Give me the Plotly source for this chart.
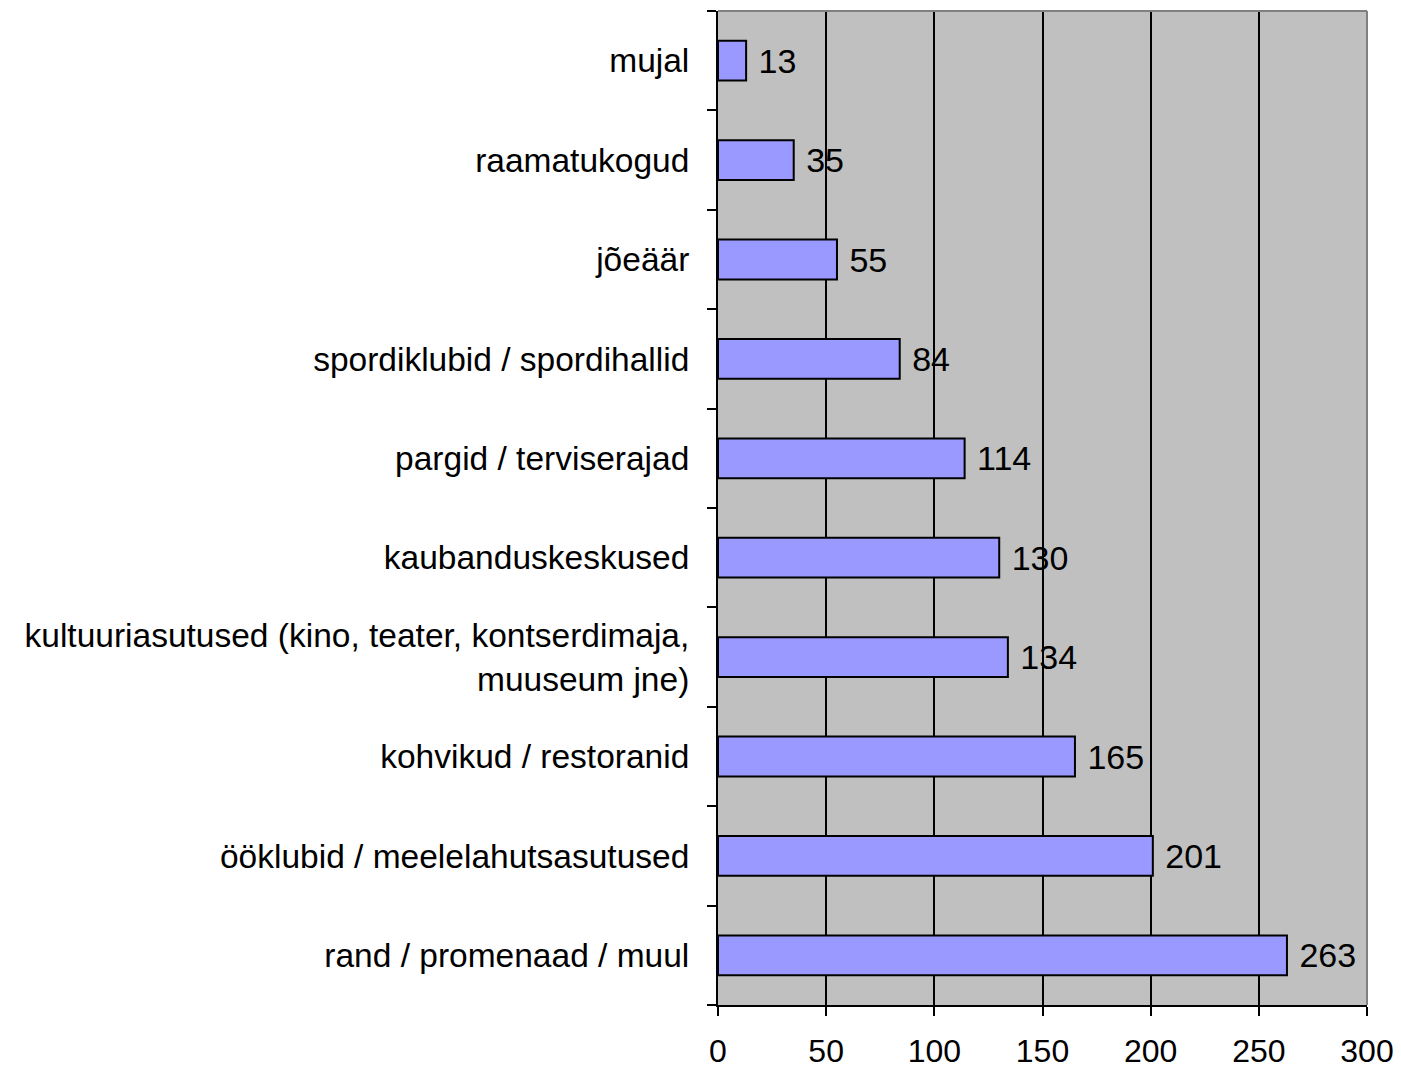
import plotly.graph_objects as go

categories = [
    "rand / promenaad / muul",
    "ööklubid / meelelahutsasutused",
    "kohvikud / restoranid",
    "kultuuriasutused (kino, teater, kontserdimaja,<br>muuseum jne)",
    "kaubanduskeskused",
    "pargid / terviserajad",
    "spordiklubid / spordihallid",
    "jõeäär",
    "raamatukogud",
    "mujal",
]
values = [263, 201, 165, 134, 130, 114, 84, 55, 35, 13]
x_ticks = [0, 50, 100, 150, 200, 250, 300]

FONT = "Liberation Sans, Arial, sans-serif"

fig = go.Figure(go.Bar(
    y=categories, x=values, orientation="h",
    marker=dict(color="#9999FF", line=dict(color="black", width=2)),
    width=0.4,
    text=[" " + str(v) for v in values], textposition="outside",
    textfont=dict(family=FONT, size=34, color="black"),
    cliponaxis=False,
))

fig.update_layout(
    width=1401, height=1068,
    margin=dict(l=710, r=42, t=3, b=71),
    paper_bgcolor="white", plot_bgcolor="#C0C0C0",
    showlegend=False,
    font=dict(family=FONT, size=34, color="black"),
    xaxis=dict(
        range=[0, 300], tickvals=x_ticks, ticktext=[str(t) for t in x_ticks],
        showgrid=True, gridcolor="black", gridwidth=2,
        showline=True, linecolor="black", linewidth=2,
        ticks="outside", ticklen=9, tickwidth=2, tickcolor="black",
        tickfont=dict(size=32), zeroline=False, ticklabelstandoff=8,
    ),
    yaxis=dict(
        categoryorder="array", categoryarray=categories,
        range=[-0.5, len(categories) - 0.5],
        showline=True, linecolor="black", linewidth=2,
        ticks="outside", ticklen=9, tickwidth=2, tickcolor="black",
        tickson="boundaries", showgrid=False,
        tickfont=dict(size=33.5), ticklabelstandoff=20,
    ),
    shapes=[
        dict(type="line", xref="paper", yref="paper", x0=0, x1=1, y0=1, y1=1,
             line=dict(color="#808080", width=2)),
        dict(type="line", xref="paper", yref="paper", x0=1, x1=1, y0=0, y1=1,
             line=dict(color="#808080", width=2)),
    ],
)

fig.write_html("out.html")
